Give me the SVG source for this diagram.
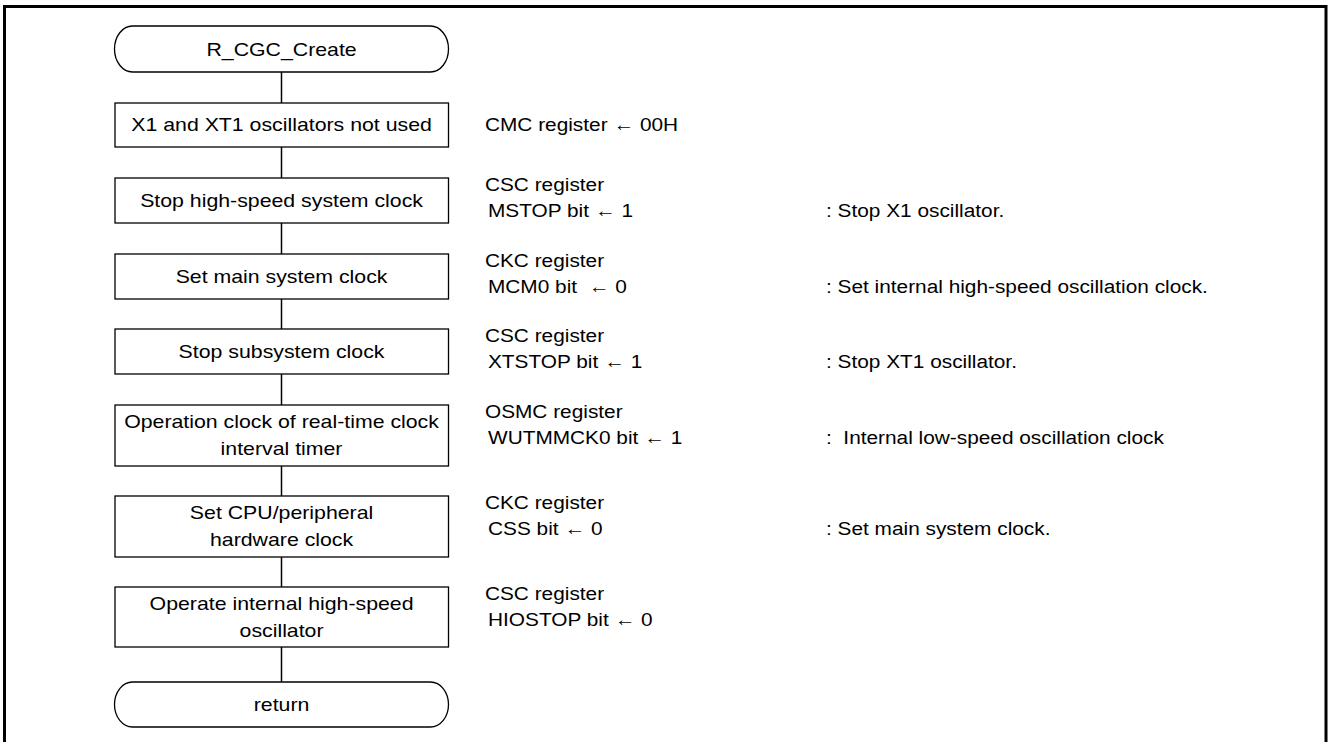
<svg xmlns="http://www.w3.org/2000/svg" width="1330" height="742" viewBox="0 0 1330 742">
<style>
  .frame{fill:none;stroke:#000;stroke-width:3}
  .box{fill:#fff;stroke:#000;stroke-width:1.3}
  .conn{stroke:#000;stroke-width:1.5;fill:none}
  text{font-family:"Liberation Sans",Arial,sans-serif;font-size:18.6px;fill:#000}
  .c{text-anchor:middle}
</style>
<rect x="0" y="0" width="1330" height="742" fill="#fff"/>
<path class="frame" d="M4.5,742 V6.5 H1326 V742"/>
<g id="connectors">
  <line class="conn" x1="281.5" y1="72" x2="281.5" y2="103"/>
  <line class="conn" x1="281.5" y1="147" x2="281.5" y2="178"/>
  <line class="conn" x1="281.5" y1="223" x2="281.5" y2="254"/>
  <line class="conn" x1="281.5" y1="299" x2="281.5" y2="329"/>
  <line class="conn" x1="281.5" y1="374" x2="281.5" y2="405"/>
  <line class="conn" x1="281.5" y1="466" x2="281.5" y2="496"/>
  <line class="conn" x1="281.5" y1="557" x2="281.5" y2="587"/>
  <line class="conn" x1="281.5" y1="647" x2="281.5" y2="682"/>
</g>
<g id="start">
  <rect class="box" x="114.5" y="26" width="334" height="46" rx="18" ry="23"/>
  <text class="c" transform="scale(1.145 1)" x="245.9" y="56">R_CGC_Create</text>
</g>
<g id="box1">
  <rect class="box" x="115" y="103" width="333.5" height="44"/>
  <text class="c" transform="scale(1.145 1)" x="245.9" y="131">X1 and XT1 oscillators not used</text>
</g>
<g id="box2">
  <rect class="box" x="115" y="178" width="333.5" height="45"/>
  <text class="c" transform="scale(1.145 1)" x="245.9" y="207">Stop high-speed system clock</text>
</g>
<g id="box3">
  <rect class="box" x="115" y="254" width="333.5" height="45"/>
  <text class="c" transform="scale(1.145 1)" x="245.9" y="283">Set main system clock</text>
</g>
<g id="box4">
  <rect class="box" x="115" y="329" width="333.5" height="45"/>
  <text class="c" transform="scale(1.145 1)" x="245.9" y="358">Stop subsystem clock</text>
</g>
<g id="box5">
  <rect class="box" x="115" y="405" width="333.5" height="61"/>
  <text class="c" transform="scale(1.145 1)" x="245.9" y="428">Operation clock of real-time clock</text>
  <text class="c" transform="scale(1.145 1)" x="245.9" y="455">interval timer</text>
</g>
<g id="box6">
  <rect class="box" x="115" y="496" width="333.5" height="61"/>
  <text class="c" transform="scale(1.145 1)" x="245.9" y="519">Set CPU/peripheral</text>
  <text class="c" transform="scale(1.145 1)" x="245.9" y="546">hardware clock</text>
</g>
<g id="box7">
  <rect class="box" x="115" y="587" width="333.5" height="60"/>
  <text class="c" transform="scale(1.145 1)" x="245.9" y="610">Operate internal high-speed</text>
  <text class="c" transform="scale(1.145 1)" x="245.9" y="637">oscillator</text>
</g>
<g id="end">
  <rect class="box" x="114.5" y="682" width="334" height="45" rx="18" ry="22.5"/>
  <text class="c" transform="scale(1.145 1)" x="245.9" y="711">return</text>
</g>
<g id="notes" transform="scale(1.12 1)">
  <text x="433" y="131">CMC register ← 00H</text>
  <text x="433" y="191">CSC register</text>
  <text x="435.7" y="217.5">MSTOP bit ← 1</text>
  <text x="737.5" y="217.5">: Stop X1 oscillator.</text>
  <text x="433" y="267">CKC register</text>
  <text x="435.7" y="293.5" xml:space="preserve">MCM0 bit  ← 0</text>
  <text x="737.5" y="293.5">: Set internal high-speed oscillation clock.</text>
  <text x="433" y="342">CSC register</text>
  <text x="435.7" y="368.5">XTSTOP bit ← 1</text>
  <text x="737.5" y="368.5">: Stop XT1 oscillator.</text>
  <text x="433" y="418">OSMC register</text>
  <text x="435.7" y="444.5">WUTMMCK0 bit ← 1</text>
  <text x="737.5" y="444.5" xml:space="preserve">:  Internal low-speed oscillation clock</text>
  <text x="433" y="509">CKC register</text>
  <text x="435.7" y="535.5">CSS bit ← 0</text>
  <text x="737.5" y="535.5">: Set main system clock.</text>
  <text x="433" y="600">CSC register</text>
  <text x="435.7" y="626.5">HIOSTOP bit ← 0</text>
</g>
</svg>
